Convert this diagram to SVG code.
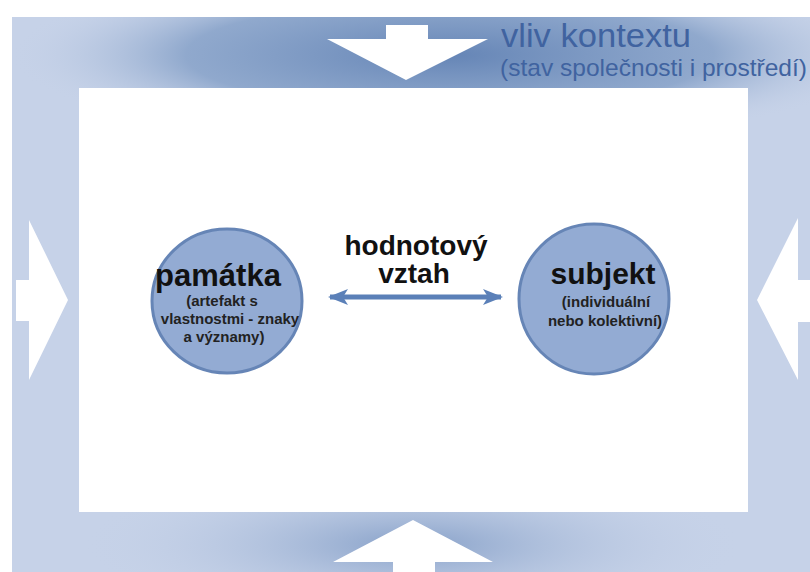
<svg xmlns="http://www.w3.org/2000/svg" width="810" height="572" viewBox="0 0 810 572">
<style>
.node{fill:#93abd3;stroke:#6685b6;stroke-width:3}
.head{font-family:"Liberation Sans",Arial,sans-serif;font-weight:bold;font-size:28px;fill:#111;text-anchor:middle}
.sub{font-family:"Liberation Sans",Arial,sans-serif;font-weight:bold;font-size:15px;fill:#222;text-anchor:middle}
.ctx{font-family:"Liberation Sans",Arial,sans-serif;fill:#4063a0}
.big{fill:#fff}
</style>
<defs>
<clipPath id="frameClip"><rect x="12" y="17" width="798" height="555"/></clipPath>
<radialGradient id="gTop" cx="0.5" cy="0.5" r="0.5">
<stop offset="0" stop-color="#6585b6" stop-opacity="1"/>
<stop offset="0.6" stop-color="#7e9bc4" stop-opacity="0.75"/>
<stop offset="1" stop-color="#c6d2e8" stop-opacity="0"/>
</radialGradient>
<radialGradient id="gBot" cx="0.5" cy="0.5" r="0.5">
<stop offset="0" stop-color="#86a0c8" stop-opacity="1"/>
<stop offset="1" stop-color="#c6d2e8" stop-opacity="0"/>
</radialGradient>
<marker id="ah" viewBox="0 0 20 16" refX="18" refY="8" markerWidth="20" markerHeight="16" markerUnits="userSpaceOnUse" orient="auto-start-reverse">
<path d="M0,0 L20,8 L0,16 L5,8 Z" fill="#5b80b8"/>
</marker>
</defs>
<g id="background">
<rect x="0" y="0" width="810" height="572" fill="#fff"/>
<rect x="12" y="17" width="798" height="555" fill="#c6d2e8"/>
<g clip-path="url(#frameClip)">
<ellipse cx="450" cy="55" rx="440" ry="90" fill="url(#gTop)"/>
<ellipse cx="413" cy="545" rx="330" ry="80" fill="url(#gBot)"/>
</g>
<rect x="79" y="88" width="669" height="424" fill="#fff"/>
</g>
<g id="context-arrows">
<path class="big" d="M386,25 H428 V39 H488 L406,80 L327,39 H386 Z"/>
<path class="big" d="M393,572 V562 H333 L413,520 L493,562 H435 V572 Z"/>
<path class="big" d="M16,280 H29 V220 L68,300 L29,380 V321 H16 Z"/>
<path class="big" d="M810,280 H798 V218 L757,300 L798,380 V322 H810 Z"/>
</g>
<g id="context-label">
<text class="ctx" x="501" y="47" font-size="34" textLength="190" lengthAdjust="spacingAndGlyphs">vliv kontextu</text>
<text class="ctx" x="500" y="76" font-size="24" textLength="307" lengthAdjust="spacingAndGlyphs">(stav společnosti i prostředí)</text>
</g>
<g id="connectors">
<line x1="330" y1="297" x2="501" y2="297" stroke="#5b80b8" stroke-width="5" marker-start="url(#ah)" marker-end="url(#ah)"/>
</g>
<g id="node-pamatka">
<ellipse class="node" cx="227" cy="301" rx="75" ry="72"/>
<text class="head" x="218" y="286" style="font-size:31px">památka</text>
<text class="sub" x="222" y="306">(artefakt s</text>
<text class="sub" x="230" y="324">vlastnostmi - znaky</text>
<text class="sub" x="224" y="342">a významy)</text>
</g>
<g id="node-subjekt">
<circle class="node" cx="594" cy="299" r="75"/>
<text class="head" x="603" y="284" style="font-size:30px">subjekt</text>
<text class="sub" x="606" y="307">(individuální</text>
<text class="sub" x="605" y="326">nebo kolektivní)</text>
</g>
<g id="label-vztah">
<text class="head" x="416" y="255">hodnotový</text>
<text class="head" x="414" y="283">vztah</text>
</g>
</svg>
